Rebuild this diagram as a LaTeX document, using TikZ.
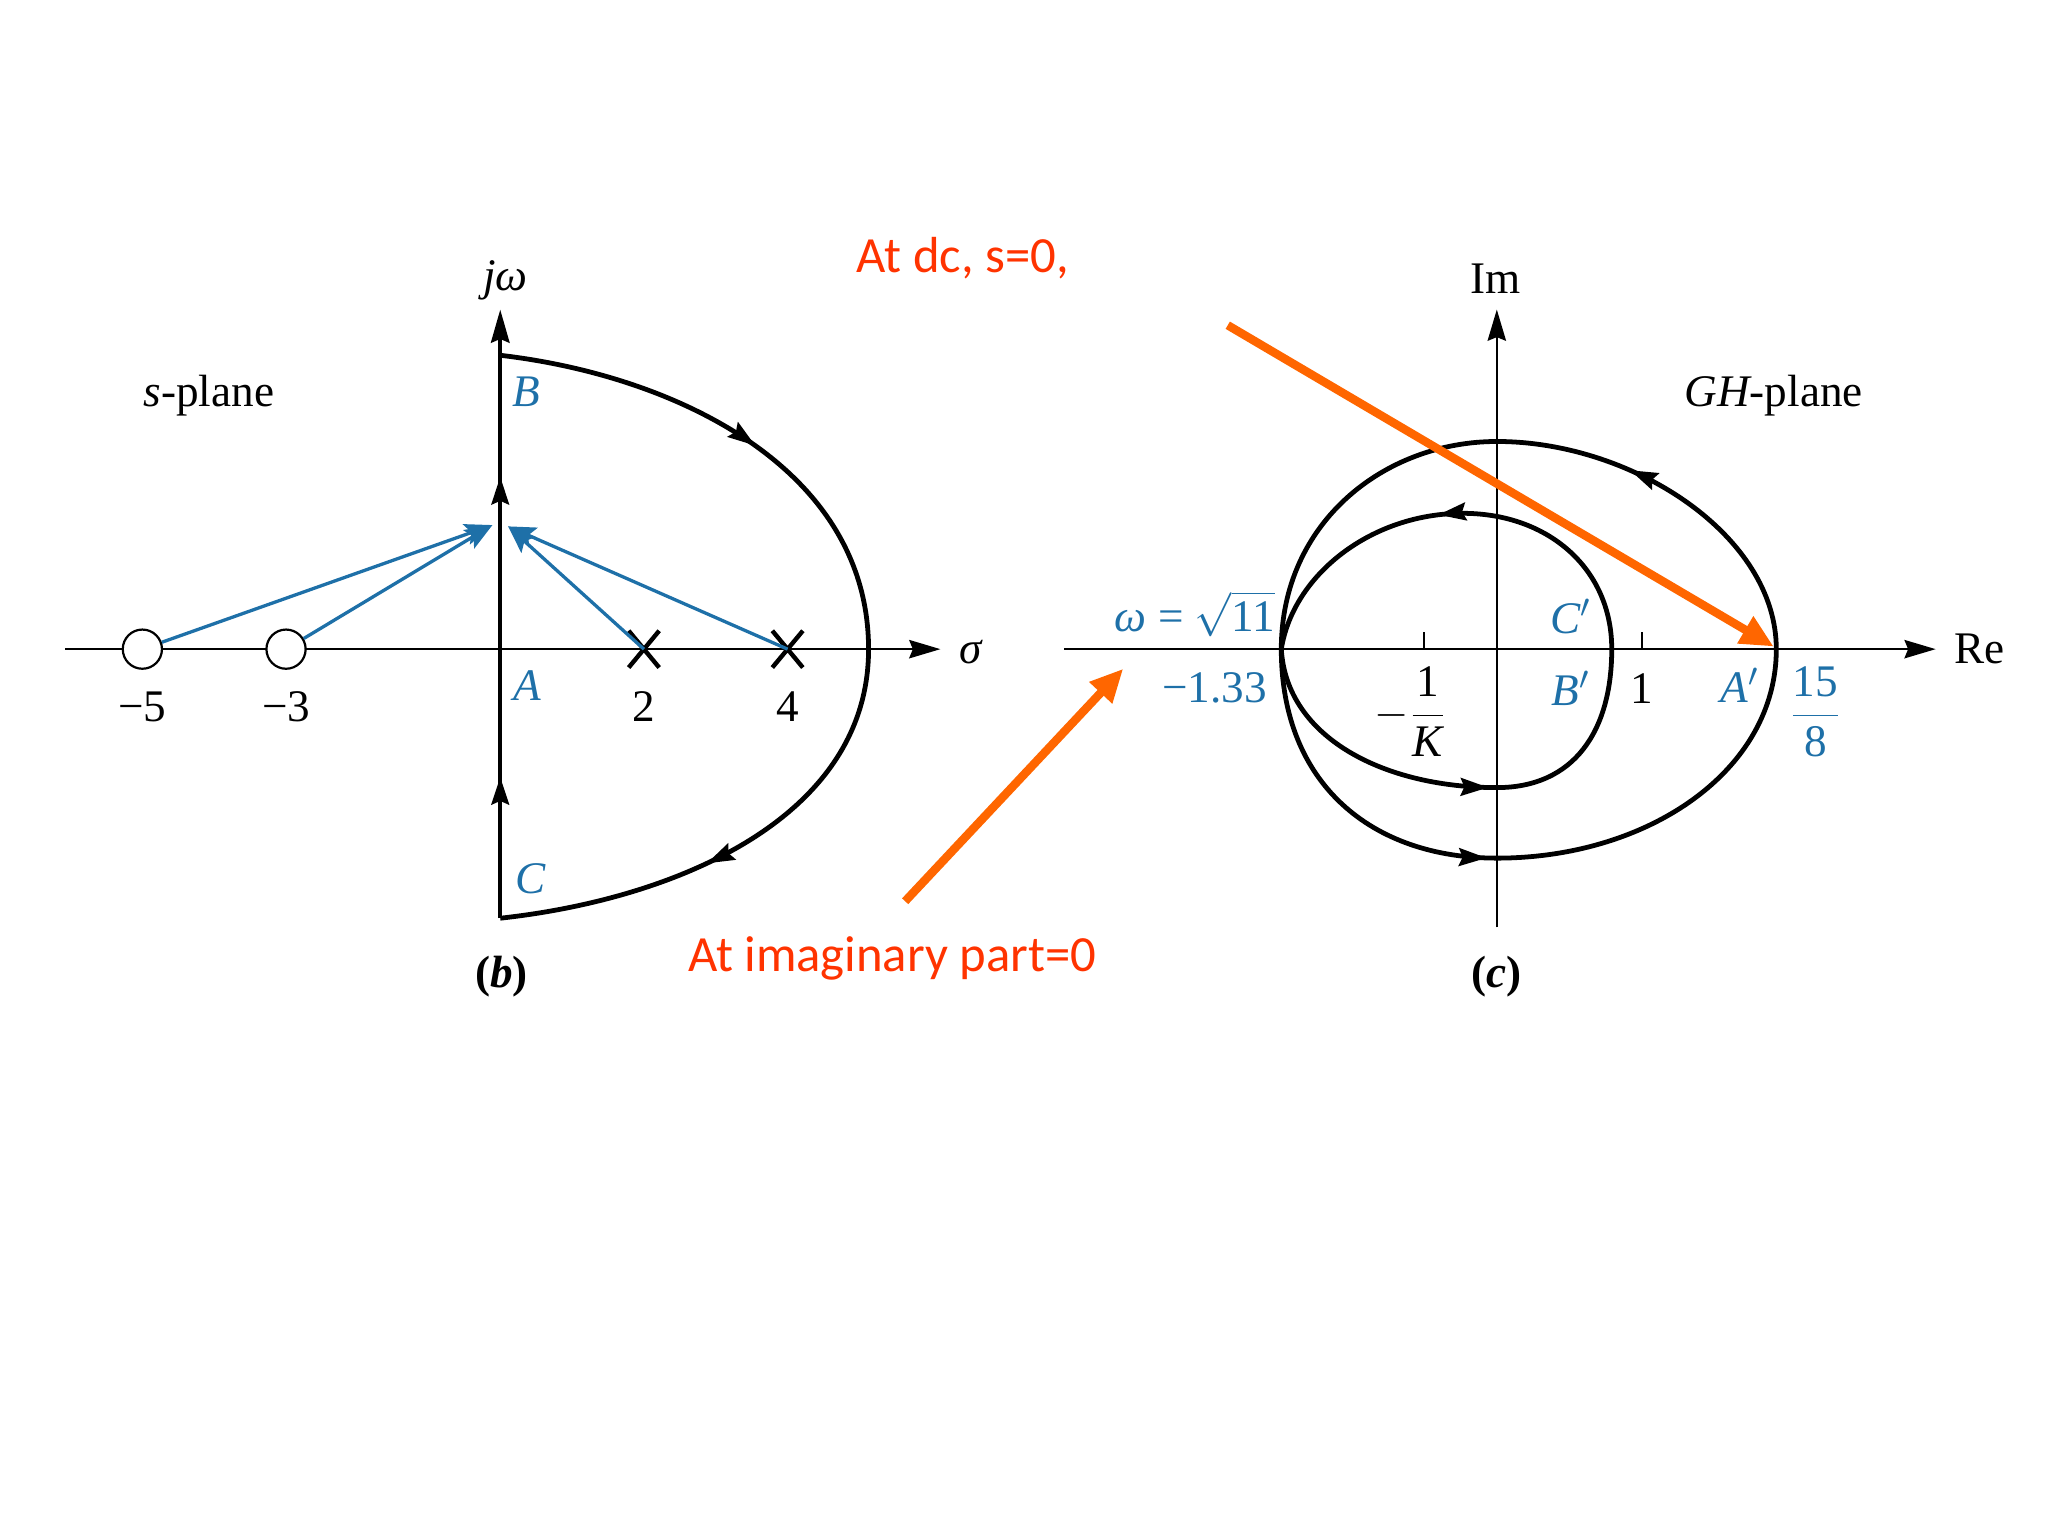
\documentclass[tikz,border=0pt]{standalone}
\usepackage{fontspec}
\setmainfont{Liberation Serif}
\newfontfamily\calib{Carlito}
\usetikzlibrary{arrows.meta,decorations.markings,shapes.misc}
\definecolor{fblue}{RGB}{30,112,168}
\definecolor{ftext}{RGB}{255,51,0}
\definecolor{farrow}{RGB}{255,102,0}
\begin{document}
\begin{tikzpicture}[x=0.0125cm,y=-0.0125cm,
  lbl/.style={font=\fontsize{12.3}{14}\selectfont, inner sep=0pt},
  blbl/.style={lbl, text=fblue},
  note/.style={font=\calib\fontsize{13.8}{16}\selectfont, text=ftext, inner sep=0pt},
  thinaxis/.style={line width=0.6pt, -{Stealth[length=8.5pt,width=5pt,inset=1pt]}},
  jwaxis/.style={line width=1.1pt, -{Stealth[length=9pt,width=5pt,inset=1pt]}},
  contour/.style={line width=1.3pt, line join=miter},
  marr/.style={postaction={decorate,decoration={markings,mark=at position #1 with {\arrow{Stealth[length=7.5pt,width=4.8pt,inset=1pt]}}}}},
  zero/.style={circle, draw, fill=white, line width=0.6pt, minimum size=0.375cm, inner sep=0pt},
  pole/.style={cross out, draw, line width=1.2pt, minimum width=0.25cm, minimum height=0.31cm, inner sep=0pt},
  barrow/.style={draw=fblue, line width=0.9pt, -{Stealth[length=7.5pt,width=5.8pt,inset=1.5pt]}, fill=fblue},
  oarrow/.style={draw=farrow, line width=2.3pt, -{Triangle[length=9pt,width=8pt]}}
]
\useasboundingbox (0,0) rectangle (1568,1176);

% ===== left: s-plane =====
\coordinate (sL) at (50,497);
\coordinate (sR) at (720,497);
\draw[thinaxis] (sL) -- (sR);
\coordinate (B0) at (383,272);
\coordinate (R0) at (665,497);
\coordinate (C0) at (383,703);
\coordinate (jtip) at (383,237);
\draw[contour, marr=0.53] (B0) .. controls (520,288) and (665,360) .. (R0);
\draw[contour, marr=0.57] (R0) .. controls (665,625) and (520,688) .. (C0);
\draw[jwaxis, line join=miter, marr=0.232, marr=0.725] (C0) -- (jtip);

\node[zero] (z5) at (109,497) {};
\node[zero] (z3) at (219,497) {};
\node[pole] (p2) at (493,497) {};
\node[pole] (p4) at (603,497) {};
\coordinate (tl) at (377,402);
\coordinate (tr) at (389,403);
\draw[barrow] (z5) -- (tl);
\draw[barrow] (z3) -- (tl);
\draw[barrow] (p2.center) -- (tr);
\draw[barrow] (p4.center) -- (tr);

\node[lbl] (n5) at (109,541) {−5};
\node[lbl] (n3) at (219,541) {−3};
\node[lbl] (n2) at (493,541) {2};
\node[lbl] (n4) at (603,541) {4};
\node[blbl] (lA) at (404,525) {\itshape A};
\node[blbl] (lB) at (403,300) {\itshape B};
\node[blbl] (lC) at (406,673) {\itshape C};
\node[lbl] (ljw) at (387,215) {\itshape jω};
\node[lbl] (lsig) at (743,499) {\itshape σ};
\node[lbl] (lsp) at (160,303) {\itshape s\upshape -plane};
\node[lbl] (lb) at (384,748) {\bfseries (\itshape b\upshape )};

% ===== right: GH-plane =====
\coordinate (gL) at (815,497);
\coordinate (gR) at (1482,497);
\coordinate (gB) at (1146,710);
\coordinate (gT) at (1146,237);
\draw[thinaxis] (gL) -- (gR);
\draw[thinaxis] (gB) -- (gT);
\coordinate (k1) at (1090,497);
\coordinate (k1t) at (1090,484);
\coordinate (u1) at (1257,497);
\coordinate (u1t) at (1257,484);
\draw[line width=0.6pt] (k1) -- (k1t);
\draw[line width=0.6pt] (u1) -- (u1t);

% outer contour
\coordinate (oL) at (981,497);
\coordinate (oB) at (1146,657);
\coordinate (oR) at (1360,497);
\coordinate (oT) at (1146,338);
\draw[contour, marr=0.97] (oL) .. controls (981,600) and (1050,657) .. (oB);
\draw[contour] (oB) .. controls (1262,657) and (1360,590) .. (oR);
\draw[contour, marr=0.64] (oR) .. controls (1360,410) and (1250,338) .. (oT);
\draw[contour] (oT) .. controls (1060,338) and (981,400) .. (oL);

% inner contour
\coordinate (iL) at (981,497);
\coordinate (iB) at (1146,603);
\coordinate (iR) at (1234,497);
\coordinate (iT) at (1120,393);
\draw[contour, marr=0.97] (iL) .. controls (985,565) and (1060,603) .. (iB);
\draw[contour] (iB) .. controls (1205,603) and (1234,560) .. (iR);
\draw[contour] (iR) .. controls (1234,435) and (1185,393) .. (iT);
\draw[contour, marr=0.1] (iT) .. controls (1050,393) and (990,440) .. (iL);

\node[lbl] (lIm) at (1145,213) {Im};
\node[lbl, anchor=west] (lRe) at (1496,497) {Re};
\node[lbl] (lgh) at (1358,303) {\itshape GH\upshape -plane};
\node[blbl] (lom) at (915,470) {{\itshape ω} = $\sqrt{\mbox{11}}$};
\node[blbl] (l133) at (930,527) {−1.33};
\node[lbl] (lK) at (1080,545) {$-\displaystyle\frac{\mbox{1}}{\mbox{\itshape K}}$};
\node[blbl] (lCp) at (1203,472) {{\itshape C}$'$};
\node[blbl] (lBp) at (1203,527) {{\itshape B}$'$};
\node[lbl] (l1) at (1257,527) {1};
\node[blbl] (lAp) at (1332,525) {{\itshape A}$'$};
\node[blbl] (l158) at (1390,545) {$\displaystyle\frac{\mbox{15}}{\mbox{8}}$};
\node[lbl] (lc) at (1146,748) {\bfseries (\itshape c\upshape )};

% ===== annotations =====
\node[note] (ndc) at (737,198) {At dc, s=0,};
\node[note] (nim) at (683,734) {At imaginary part=0};
\coordinate (o1s) at (940,249);
\coordinate (o1e) at (1358,495);
\coordinate (o2s) at (693,690);
\coordinate (o2e) at (860,512);
\draw[oarrow] (o1s) -- (o1e);
\draw[oarrow] (o2s) -- (o2e);
\end{tikzpicture}
\end{document}
